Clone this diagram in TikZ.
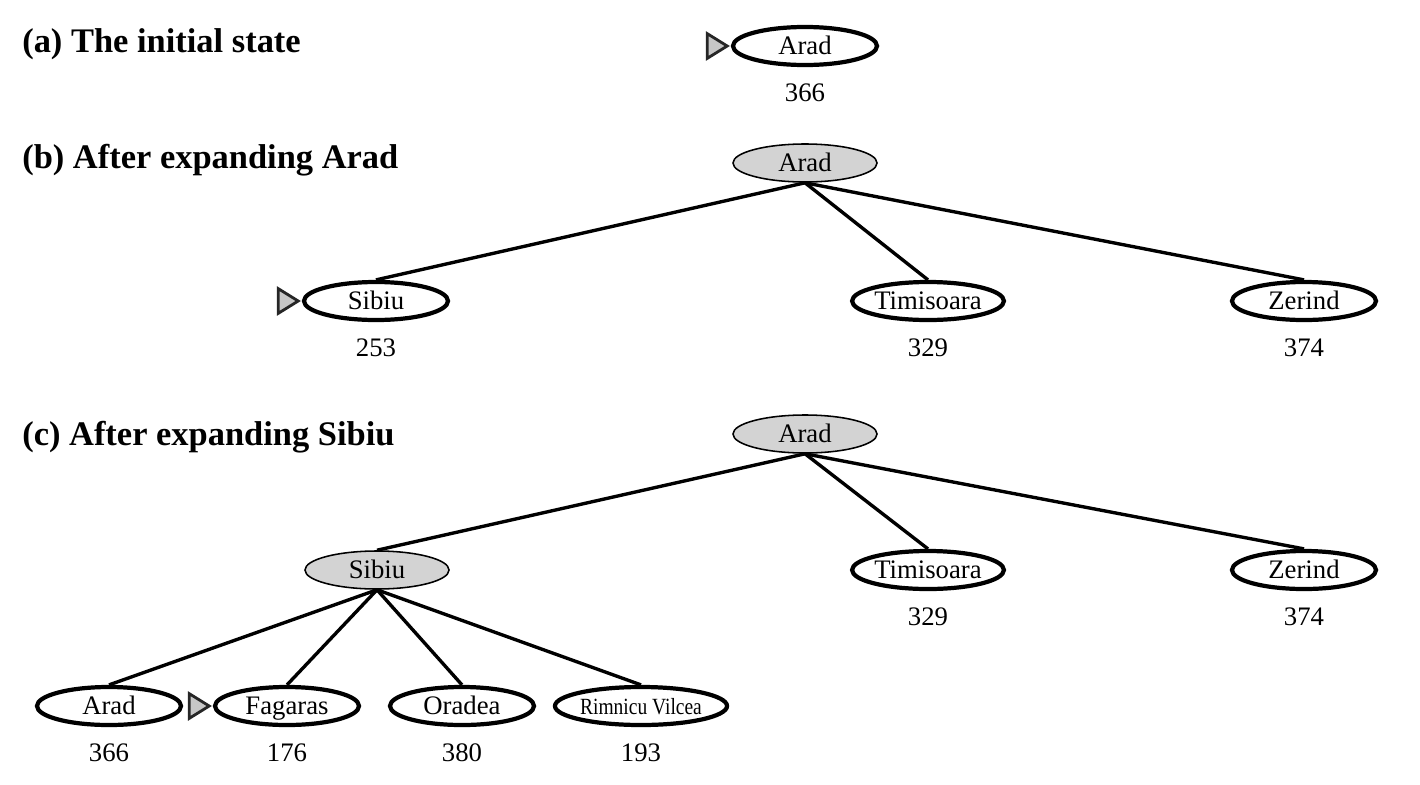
\documentclass[tikz,border=0pt]{standalone}
\usepackage[svgnames]{xcolor}
\usepackage{fontspec}
\setmainfont{Liberation Serif}
\newfontfamily\condensada[FakeStretch=0.84]{Liberation Serif}
\usetikzlibrary{shapes.geometric}
\usetikzlibrary{positioning}
\pgfdeclarelayer{lineas_layer}
\pgfdeclarelayer{esquema}
\pgfsetlayers{lineas_layer,esquema,main}
\tikzstyle{none}=[inner sep=0pt]
\tikzstyle{titulo}=[anchor=west,inner sep=0pt,font=\fontsize{24.5}{24.5}\selectfont\bfseries]
\tikzstyle{ciudad}=[ellipse,draw=Black,line width=3pt,fill=white,minimum width=3.6cm,minimum height=0.95cm,inner sep=0pt,text height=13pt,text depth=1pt,font=\fontsize{19}{19}\selectfont]
\tikzstyle{expandido}=[ciudad,fill=LightGray,line width=1.1pt]
\tikzstyle{valor}=[inner sep=0pt,font=\fontsize{19}{19}\selectfont]
\tikzstyle{frontera}=[isosceles triangle,isosceles triangle stretches,draw=black!85,fill=black!22,line width=2pt,minimum width=0.62cm,minimum height=0.5cm,inner sep=0pt]
\tikzstyle{line}=[draw,line width=2.4pt]

\begin{document}
\begin{tikzpicture}[x=0.025cm,y=-0.025cm]
		\useasboundingbox (0,0) rectangle (1420,784);
		\begin{pgfonlayer}{esquema}
			% (a)
			\node [style=titulo] (tit_a) at (22,44) {(a) The initial state};
			\node [style=ciudad] (arad_a) at (805,46) {Arad};
			\node [style=frontera,left=0pt of arad_a] (fr_a) {};
			\node [style=valor,below=0.4cm of arad_a] (h_arad_a) {366};
			% (b)
			\node [style=titulo] (tit_b) at (22,160) {(b) After expanding Arad};
			\node [style=expandido] (arad_b) at (805,163) {Arad};
			\node [style=ciudad] (sibiu_b) at (376,301) {Sibiu};
			\node [style=ciudad] (timisoara_b) at (928,301) {Timisoara};
			\node [style=ciudad] (zerind_b) at (1304,301) {Zerind};
			\node [style=frontera,left=0pt of sibiu_b] (fr_b) {};
			\node [style=valor,below=0.4cm of sibiu_b] (h_sibiu_b) {253};
			\node [style=valor,below=0.4cm of timisoara_b] (h_timisoara_b) {329};
			\node [style=valor,below=0.4cm of zerind_b] (h_zerind_b) {374};
			% (c)
			\node [style=titulo] (tit_c) at (22,437) {(c) After expanding Sibiu};
			\node [style=expandido] (arad_c) at (805,434) {Arad};
			\node [style=expandido] (sibiu_c) at (377,570) {Sibiu};
			\node [style=ciudad] (timisoara_c) at (928,570) {Timisoara};
			\node [style=ciudad] (zerind_c) at (1304,570) {Zerind};
			\node [style=valor,below=0.4cm of timisoara_c] (h_timisoara_c) {329};
			\node [style=valor,below=0.4cm of zerind_c] (h_zerind_c) {374};
			\node [style=ciudad] (arad_c2) at (109,706) {Arad};
			\node [style=ciudad] (fagaras_c) at (287,706) {Fagaras};
			\node [style=ciudad] (oradea_c) at (462,706) {Oradea};
			\node [style=ciudad,font=\fontsize{16.5}{16.5}\condensada] (rimnicu_c) at (641,706) {Rimnicu Vilcea};
			\node [style=frontera,left=0pt of fagaras_c] (fr_c) {};
			\node [style=valor,below=0.4cm of arad_c2] (h_arad_c2) {366};
			\node [style=valor,below=0.4cm of fagaras_c] (h_fagaras_c) {176};
			\node [style=valor,below=0.4cm of oradea_c] (h_oradea_c) {380};
			\node [style=valor,below=0.4cm of rimnicu_c] (h_rimnicu_c) {193};
		\end{pgfonlayer}
		\begin{pgfonlayer}{lineas_layer}
			 \path [style=line] (arad_b.south) -- (sibiu_b.north);
			 \path [style=line] (arad_b.south) -- (timisoara_b.north);
			 \path [style=line] (arad_b.south) -- (zerind_b.north);
			 \path [style=line] (arad_c.south) -- (sibiu_c.north);
			 \path [style=line] (arad_c.south) -- (timisoara_c.north);
			 \path [style=line] (arad_c.south) -- (zerind_c.north);
			 \path [style=line] (sibiu_c.south) -- (arad_c2.north);
			 \path [style=line] (sibiu_c.south) -- (fagaras_c.north);
			 \path [style=line] (sibiu_c.south) -- (oradea_c.north);
			 \path [style=line] (sibiu_c.south) -- (rimnicu_c.north);
		\end{pgfonlayer}
		\end{tikzpicture}
\end{document}
